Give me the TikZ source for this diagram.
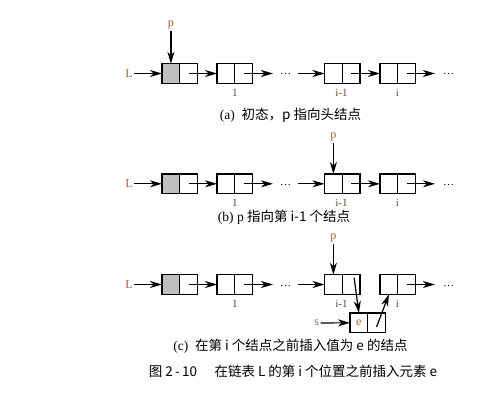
\documentclass[tikz,border=0pt]{standalone}
\usepackage{fontspec}
\setmainfont{Liberation Serif}
\newfontfamily\cjk{Noto Sans CJK SC}
\usetikzlibrary{arrows.meta}
\definecolor{labc}{RGB}{176,90,40}
\definecolor{idxc}{RGB}{105,70,55}
\definecolor{fillg}{RGB}{192,192,192}
\newcommand\mkrow[2]{%
  \node[headcell] (#1a) at (170.9,#2) {};
  \node[cell] (#1ap) at (188.6,#2) {};
  \node[cell] (#1b) at (225.9,#2) {};
  \node[cell] (#1bp) at (243.6,#2) {};
  \node[cell] (#1c) at (333.4,#2) {};
  \node[cell] (#1cp) at (351.1,#2) {};
  \node[cell] (#1d) at (388.9,#2) {};
  \node[cell] (#1dp) at (406.6,#2) {};
  \node[labl] (#1L) at (129,#2) {L};
  \coordinate (#1e1) at (273,#2);
  \node[dots] (#1g1) at (285.5,#2+1.5) {…};
  \coordinate (#1s2) at (298,#2);
  \coordinate (#1e2) at (435,#2);
  \node[dots] (#1g2) at (448.5,#2+1.5) {…};
  \node[idxl] (#1i1) at (234.8,#2+19) {1};
  \node[idxl] (#1i2) at (341.5,#2+19) {i-1};
  \node[idxl] (#1i3) at (397.5,#2+19) {i};
  \draw[arr] (#1L) -- (#1a.west);
  \draw[arr] (#1ap.center) -- (#1b.west);
  \draw[arr] (#1bp.center) -- (#1e1);
  \draw[arr] (#1s2) -- (#1c.west);
  \draw[arr] (#1dp.center) -- (#1e2);
}
\begin{document}
\begin{tikzpicture}[x=1pt,y=-1pt,
  cell/.style={draw, line width=1.2pt, minimum width=17.75pt, minimum height=19.5pt, inner sep=0pt, outer sep=0pt},
  headcell/.style={cell, fill=fillg},
  arr/.style={line width=1.2pt, -{Stealth[length=12pt,width=7pt,inset=3.5pt]}},
  labl/.style={text=labc, font=\fontsize{12}{12}\selectfont, inner sep=1.5pt},
  idxl/.style={text=idxc, font=\fontsize{11}{11}\selectfont, inner sep=0pt},
  dots/.style={inner sep=0pt, anchor=base, font=\fontsize{11}{11}\selectfont},
  captxt/.style={font=\fontsize{13.5}{13.5}\selectfont, inner sep=0pt},
]
\useasboundingbox (0,0) rectangle (500,401);
% panel (a)
\mkrow{a}{73.5}
\node[labl] (ap) at (170.9,25) {p};
\draw[arr] (ap.south) -- (aa.north);
\draw[arr] (acp.center) -- (ad.west);
\node[captxt] (capa) at (290.5,115.7) {(a)\ \ \cjk{初态，}p \cjk{指向头结点}};
% panel (b)
\mkrow{b}{183.8}
\node[labl] (bp) at (333.4,137) {p};
\draw[arr] (bp.south) -- (bc.north);
\draw[arr] (bcp.center) -- (bd.west);
\node[captxt] (capb) at (284,217) {(b) p \cjk{指向第} i-1 \cjk{个结点}};
% panel (c)
\mkrow{c}{284.5}
\node[labl] (cp) at (333.4,238) {p};
\draw[arr] (cp.south) -- (cc.north);
\node[cell, text=labc, font=\fontsize{12}{12}\selectfont] (ce) at (358.9,322.8) {e};
\node[cell] (cep) at (376.6,322.8) {};
\node[labl] (cs) at (316.7,323) {s};
\draw[arr] (cs) -- (ce.west);
\draw[arr] ([xshift=3pt,yshift=-3pt]ccp.north) -- (ce.north);
\draw[arr] ([yshift=-4pt]cep.center) -- (cd.south);
\node[captxt] (capc) at (290.5,346) {(c)\ \ \cjk{在第} i \cjk{个结点之前插入值为} e \cjk{的结点}};
\node[captxt] (fig) at (293,371.7) {\cjk{图} 2\,-\,10\hspace{1.3em}\cjk{在链表} L \cjk{的第} i \cjk{个位置之前插入元素} e};
\end{tikzpicture}
\end{document}
